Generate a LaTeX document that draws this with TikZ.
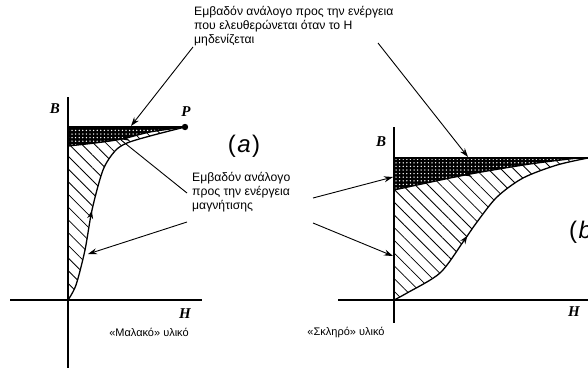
\documentclass[tikz,border=0pt]{standalone}
\usepackage{fontspec}
\setmainfont{Liberation Sans}
\newfontfamily\tms{Liberation Serif}
\usetikzlibrary{arrows.meta,patterns.meta,decorations.markings}
\begin{document}
\begin{tikzpicture}[x=1pt,y=-1pt,
  axis/.style={line width=1.1pt},
  curve/.style={line width=1.3pt},
  topline/.style={line width=2.6pt},
  annot/.style={line width=0.9pt,-{Stealth[length=9pt,width=6pt]}},
  hatchfill/.style={pattern={Lines[angle=-45,distance=9pt,line width=0.8pt]}},
  darkfill/.style={fill=black},
  dotfill/.style={pattern={Dots[distance=3.6pt,radius=0.75pt]},pattern color=white},
  lab/.style={font=\fontsize{12.2}{14.2}\selectfont,align=left,inner sep=0pt,anchor=north west},
  sym/.style={font=\tms\bfseries\itshape\fontsize{15}{15}\selectfont,inner sep=0pt},
  captext/.style={font=\fontsize{11}{12}\selectfont,inner sep=0pt},
  biglab/.style={font=\fontsize{24}{24}\selectfont,inner sep=0pt},
  midarrow/.style={postaction={decorate},decoration={markings,mark=at position #1 with {\arrow{Stealth[length=8pt,width=6pt]}}}}
]
\useasboundingbox (0,0) rectangle (588,368);

% ---------- (a) ----------
\fill[hatchfill] (68,127) -- (185,127) -- plot[smooth] coordinates {(185,127) (150,136) (127,143) (115,151) (103,170) (92,210) (85,250) (76,285) (68,300)} -- cycle;
\fill[darkfill] (68,127) -- (185,127) -- plot[smooth] coordinates {(185,127) (150,132) (122,139) (95,143) (68,146)} -- cycle;
\fill[dotfill] (68,127) -- (185,127) -- plot[smooth] coordinates {(185,127) (150,132) (122,139) (95,143) (68,146)} -- cycle;
\draw[curve,midarrow=0.4] plot[smooth] coordinates {(68,300) (76,285) (85,250) (92,210) (103,170) (115,151) (127,143) (150,136) (185,127)};
\draw[curve,midarrow=0.55] plot[smooth] coordinates {(185,127) (150,132) (122,139) (95,143) (68,146)};
\draw[axis] (68,97) -- (68,368);
\draw[axis] (10,300) -- (202,300);
\coordinate (Pa) at (185,127);
\draw[topline] (68,127) -- (Pa);
\fill (Pa) circle (3.2pt);
\node[sym] (Ba) at (55,109) {B};
\node[sym] (Plab) at (186,112) {P};
\node[sym] (Ha) at (185,314) {H};
\node[biglab] (alab) at (244,146) {(\hspace{1.5pt}\textit{a}\hspace{1.5pt})};
\node[captext] (soft) at (149,332) {«Μαλακό» υλικό};

% ---------- (b) ----------
\fill[hatchfill] (394,158) -- (588,158) -- plot[smooth] coordinates {(588,158) (557,165) (523,178) (497,197) (477,222) (463,242) (440,273) (407,293) (394,300)} -- cycle;
\fill[darkfill] (394,158) -- (578,158) -- plot[smooth] coordinates {(578,158) (530,164) (465,175) (394,190)} -- cycle;
\fill[dotfill] (394,158) -- (578,158) -- plot[smooth] coordinates {(578,158) (530,164) (465,175) (394,190)} -- cycle;
\draw[curve,midarrow=0.4] plot[smooth] coordinates {(394,300) (407,293) (440,273) (463,242) (477,222) (497,197) (523,178) (557,165) (588,158)};
\draw[curve,midarrow=0.62] plot[smooth] coordinates {(578,158) (530,164) (465,175) (394,190)};
\draw[axis] (394,127) -- (394,323);
\draw[axis] (338,300) -- (588,300);
\draw[topline] (394,158) -- (588,158);
\node[sym] (Bb) at (381,142) {B};
\node[sym] (Hb) at (574,312) {H};
\node[biglab,anchor=west] (blab) at (569,232) {(\hspace{1.5pt}\textit{b}\hspace{1.5pt})};
\node[captext] (hard) at (346,332) {«Σκληρό» υλικό};

% ---------- labels and pointers ----------
\node[lab] (top) at (194,6) {Εμβαδόν ανάλογο προς την ενέργεια\\που ελευθερώνεται όταν το H\\μηδενίζεται};
\node[lab] (mag) at (192,172) {Εμβαδόν ανάλογο\\προς την ενέργεια\\μαγνήτισης};

\coordinate (t1) at (193,47);   \coordinate (t1e) at (131,126);
\coordinate (t2) at (378,43);   \coordinate (t2e) at (468,157);
\coordinate (m1) at (187,193);  \coordinate (m1e) at (121,140);
\coordinate (m2) at (187,222);  \coordinate (m2e) at (88,254);
\coordinate (l1) at (313,198);  \coordinate (l1e) at (393,177);
\coordinate (l2) at (313,223);  \coordinate (l2e) at (393,256);
\draw[annot] (t1) -- (t1e);
\draw[annot] (t2) -- (t2e);
\draw[line width=0.9pt] (m1) -- (m1e);
\draw[annot] (m2) -- (m2e);
\draw[annot] (l1) -- (l1e);
\draw[annot] (l2) -- (l2e);
\end{tikzpicture}
\end{document}
